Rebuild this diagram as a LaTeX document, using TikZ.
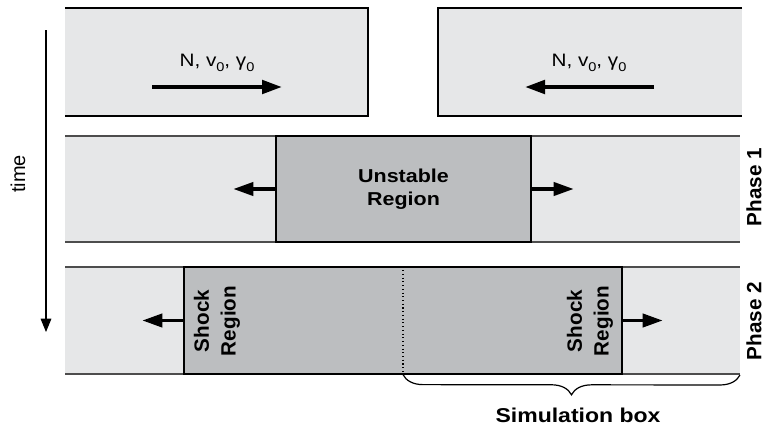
\documentclass[tikz,border=0pt]{standalone}
\usepackage{fontspec}
\setmainfont{Liberation Sans}
\newfontfamily\widesf[FakeStretch=1.15]{Liberation Sans}
\usetikzlibrary{arrows.meta,positioning,decorations.pathreplacing}
\definecolor{pale}{HTML}{E6E7E8}
\definecolor{shade}{HTML}{BCBEC0}
\definecolor{rim}{HTML}{4D4D4D}
\newcommand{\lowsub}[1]{\raisebox{-3.2pt}{\fontsize{9.5}{10}\selectfont #1}}

\begin{document}
\begin{tikzpicture}[x=0.75pt,y=-0.75pt,>={Triangle[length=15pt,width=10pt]}]
        \tikzset{
            region/.style= {
                draw=black,
                fill=shade,
                line width=0.9pt,
                inner sep=0pt,
                align=center,
                font=\widesf\bfseries\fontsize{14}{17.5}\selectfont
            },
            bold/.style={font=\widesf\bfseries\fontsize{15}{18}\selectfont},
            side/.style={rotate=90, align=center,
                font=\bfseries\fontsize{15.5}{20}\selectfont},
            push/.style={->, line width=2.4pt},
            stream/.style={font=\widesf\fontsize{13.5}{16}\selectfont},
        }
\useasboundingbox (0,0) rectangle (764,425);
%% incoming streams
\fill[pale] (65,8) rectangle (368,116);
\draw[line width=0.9pt] (65,8) -- (368,8) -- (368,116) -- (65,116);
\fill[pale] (438,8) rectangle (742,116);
\draw[line width=0.9pt] (742,8) -- (438,8) -- (438,116) -- (742,116);
\node[stream] (leftlabel) at (217,63) {N, v\lowsub{0}, γ\lowsub{0}};
\node[stream] (rightlabel) at (589,63) {N, v\lowsub{0}, γ\lowsub{0}};
\coordinate (lstart) at (152,87);
\coordinate (lend) at (282,87);
\coordinate (rstart) at (654,87);
\coordinate (rend) at (525,87);
\draw[push,line width=3pt] (lstart) -- (lend);
\draw[push,line width=3pt] (rstart) -- (rend);
%% phase 1
\fill[pale] (65,136) rectangle (740,242);
\draw[rim,line width=0.8pt] (65,136) -- (740,136) (65,242) -- (740,242);
\node[region, minimum width=191.25pt, minimum height=79.5pt] (unstable) at (403.5,189)
    {Unstable\\Region};
\coordinate[left=31.5pt of unstable] (uleft);
\coordinate[right=31.5pt of unstable] (uright);
\draw[push] (unstable.west) -- (uleft);
\draw[push] (unstable.east) -- (uright);
%% phase 2
\fill[pale] (65,267) rectangle (740,374);
\draw[rim,line width=0.8pt] (65,267) -- (740,267) (65,374) -- (740,374);
\node[region, minimum width=328.5pt, minimum height=80.25pt] (shock) at (403,320.5) {};
\draw[dotted,line width=0.8pt] (shock.north) -- (shock.south);
\node[side] (lshock) at (217,321) {Shock\\Region};
\node[side] (rshock) at (590,321) {Shock\\Region};
\coordinate[left=30.75pt of shock] (sleft);
\coordinate[right=30pt of shock] (sright);
\draw[push] (shock.west) -- (sleft);
\draw[push] (shock.east) -- (sright);
%% simulation box
\coordinate (boxend) at (740,375);
\draw[line width=0.9pt, decorate, decoration={brace,mirror,amplitude=15pt}]
    (shock.south) -- (boxend);
\node[bold] (simbox) at (578,415) {Simulation box};
%% time axis
\coordinate (t0) at (46,30);
\coordinate (t1) at (46,332);
\draw[line width=0.8pt, -{Triangle[length=10pt,width=8pt]}] (t0) -- (t1);
\node[rotate=90, font=\fontsize{15}{18}\selectfont] (timelabel) at (18,174) {time};
\node[side, inner sep=0pt] (phase1) at (754,187) {Phase 1};
\node[side, inner sep=0pt] (phase2) at (754,321) {Phase 2};
\end{tikzpicture}
\end{document}
